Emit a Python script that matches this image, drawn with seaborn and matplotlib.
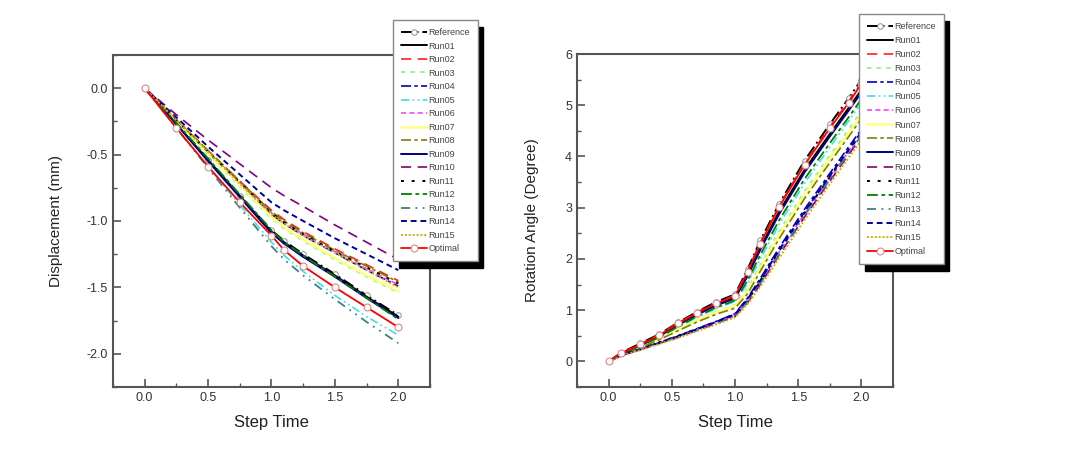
import matplotlib
matplotlib.use("Agg")
import matplotlib.pyplot as plt
import seaborn as sns
from matplotlib.ticker import MultipleLocator

sns.set_style("ticks")
plt.rcParams['font.family'] = ['Liberation Sans', 'DejaVu Sans']

labels = ["Reference", "Run01", "Run02", "Run03", "Run04", "Run05", "Run06", "Run07",
          "Run08", "Run09", "Run10", "Run11", "Run12", "Run13", "Run14", "Run15", "Optimal"]

# Displacement (mm) vs step time
t_disp = [0, 0.25, 0.5, 0.75, 1.0, 1.1, 1.25, 1.5, 1.75, 2.0]
disp_reference = [0, -0.27, -0.54, -0.81, -1.07, -1.15, -1.25, -1.40, -1.56, -1.71]
disp_run01 = [0, -0.27, -0.54, -0.81, -1.08, -1.16, -1.26, -1.41, -1.57, -1.72]
disp_run02 = [0, -0.24, -0.47, -0.70, -0.92, -0.99, -1.08, -1.21, -1.33, -1.45]
disp_run03 = [0, -0.25, -0.50, -0.74, -0.98, -1.06, -1.15, -1.29, -1.42, -1.54]
disp_run04 = [0, -0.24, -0.48, -0.72, -0.95, -1.02, -1.11, -1.24, -1.37, -1.49]
disp_run05 = [0, -0.30, -0.59, -0.88, -1.16, -1.26, -1.38, -1.56, -1.72, -1.86]
disp_run06 = [0, -0.24, -0.48, -0.71, -0.94, -1.01, -1.10, -1.23, -1.36, -1.48]
disp_run07 = [0, -0.25, -0.49, -0.73, -0.97, -1.05, -1.14, -1.28, -1.41, -1.53]
disp_run08 = [0, -0.24, -0.47, -0.70, -0.93, -1.00, -1.09, -1.22, -1.34, -1.46]
disp_run09 = [0, -0.27, -0.55, -0.82, -1.09, -1.17, -1.27, -1.42, -1.58, -1.73]
disp_run10 = [0, -0.20, -0.39, -0.57, -0.75, -0.81, -0.89, -1.03, -1.16, -1.29]
disp_run11 = [0, -0.24, -0.48, -0.71, -0.94, -1.01, -1.10, -1.23, -1.35, -1.47]
disp_run12 = [0, -0.26, -0.53, -0.80, -1.07, -1.16, -1.26, -1.42, -1.58, -1.74]
disp_run13 = [0, -0.30, -0.60, -0.90, -1.19, -1.29, -1.41, -1.59, -1.76, -1.92]
disp_run14 = [0, -0.22, -0.44, -0.65, -0.86, -0.92, -1.00, -1.13, -1.25, -1.37]
disp_run15 = [0, -0.24, -0.48, -0.72, -0.95, -1.02, -1.11, -1.24, -1.37, -1.50]
disp_optimal = [0, -0.30, -0.59, -0.86, -1.11, -1.22, -1.34, -1.50, -1.65, -1.80]

# Rotation angle (degree) vs step time
t_rot = [0, 0.1, 0.25, 0.4, 0.55, 0.7, 0.85, 1.0, 1.1, 1.2, 1.35, 1.55, 1.75, 1.9, 2.0]
rot_reference = [0, 0.17, 0.35, 0.53, 0.76, 0.97, 1.16, 1.31, 1.80, 2.36, 3.08, 3.92, 4.63, 5.14, 5.50]
rot_run01 = [0, 0.15, 0.32, 0.50, 0.72, 0.93, 1.11, 1.25, 1.70, 2.22, 2.93, 3.74, 4.44, 4.95, 5.30]
rot_run02 = [0, 0.16, 0.34, 0.52, 0.75, 0.96, 1.14, 1.29, 1.77, 2.32, 3.04, 3.87, 4.58, 5.08, 5.45]
rot_run03 = [0, 0.14, 0.28, 0.44, 0.63, 0.81, 0.97, 1.10, 1.42, 1.88, 2.54, 3.32, 4.02, 4.53, 4.88]
rot_run04 = [0, 0.12, 0.25, 0.37, 0.50, 0.64, 0.78, 0.93, 1.24, 1.62, 2.22, 2.97, 3.67, 4.19, 4.53]
rot_run05 = [0, 0.14, 0.30, 0.46, 0.67, 0.86, 1.03, 1.17, 1.52, 2.00, 2.68, 3.48, 4.18, 4.70, 5.05]
rot_run06 = [0, 0.12, 0.24, 0.36, 0.49, 0.62, 0.76, 0.90, 1.19, 1.55, 2.14, 2.88, 3.58, 4.10, 4.44]
rot_run07 = [0, 0.14, 0.28, 0.43, 0.62, 0.80, 0.96, 1.08, 1.38, 1.83, 2.48, 3.26, 3.96, 4.47, 4.82]
rot_run08 = [0, 0.13, 0.27, 0.42, 0.60, 0.77, 0.92, 1.04, 1.32, 1.76, 2.40, 3.18, 3.88, 4.39, 4.74]
rot_run09 = [0, 0.15, 0.31, 0.49, 0.71, 0.91, 1.09, 1.23, 1.67, 2.18, 2.88, 3.69, 4.39, 4.90, 5.25]
rot_run10 = [0, 0.11, 0.23, 0.35, 0.47, 0.61, 0.74, 0.88, 1.15, 1.50, 2.08, 2.82, 3.52, 4.04, 4.38]
rot_run11 = [0, 0.12, 0.24, 0.37, 0.50, 0.63, 0.77, 0.91, 1.20, 1.56, 2.16, 2.90, 3.60, 4.12, 4.46]
rot_run12 = [0, 0.15, 0.30, 0.47, 0.68, 0.88, 1.05, 1.19, 1.58, 2.08, 2.76, 3.56, 4.26, 4.77, 5.12]
rot_run13 = [0, 0.11, 0.23, 0.35, 0.48, 0.61, 0.75, 0.89, 1.16, 1.52, 2.10, 2.85, 3.55, 4.07, 4.41]
rot_run14 = [0, 0.12, 0.24, 0.36, 0.49, 0.63, 0.77, 0.92, 1.22, 1.58, 2.18, 2.92, 3.62, 4.14, 4.48]
rot_run15 = [0, 0.11, 0.22, 0.34, 0.46, 0.59, 0.72, 0.86, 1.12, 1.46, 2.02, 2.76, 3.46, 3.98, 4.32]
rot_optimal = [0, 0.16, 0.33, 0.51, 0.74, 0.95, 1.13, 1.28, 1.75, 2.30, 3.02, 3.84, 4.55, 5.05, 5.42]

disp_series = [disp_reference, disp_run01, disp_run02, disp_run03, disp_run04, disp_run05,
               disp_run06, disp_run07, disp_run08, disp_run09, disp_run10, disp_run11,
               disp_run12, disp_run13, disp_run14, disp_run15, disp_optimal]
rot_series = [rot_reference, rot_run01, rot_run02, rot_run03, rot_run04, rot_run05,
              rot_run06, rot_run07, rot_run08, rot_run09, rot_run10, rot_run11,
              rot_run12, rot_run13, rot_run14, rot_run15, rot_optimal]

styles = [
    dict(color="black", linestyle=(0, (6, 2, 1, 2)), marker="o", mfc="white", mec="#999999", ms=4, lw=1.4),
    dict(color="black", linestyle="-", lw=1.4),
    dict(color="#ff2020", linestyle=(0, (6, 4)), lw=1.2),
    dict(color="#80ff80", linestyle=(0, (2, 3)), lw=1.4),
    dict(color="#0000c0", linestyle=(0, (6, 2, 2, 2)), lw=1.2),
    dict(color="#40e0e0", linestyle=(0, (5, 2, 1, 2, 1, 2)), lw=1.2),
    dict(color="#ff40ff", linestyle=(0, (3, 2)), lw=1.2),
    dict(color="#ffff80", linestyle="-", lw=1.8),
    dict(color="#808000", linestyle=(0, (6, 2, 2, 2)), lw=1.2),
    dict(color="#000080", linestyle="-", lw=1.4),
    dict(color="#800080", linestyle=(0, (6, 4)), lw=1.2),
    dict(color="black", linestyle=(0, (1.5, 4)), lw=1.4),
    dict(color="#008000", linestyle=(0, (6, 2, 2, 2)), lw=1.3),
    dict(color="#408080", linestyle=(0, (5, 3, 1, 3, 1, 3)), lw=1.3),
    dict(color="#0000a0", linestyle=(0, (3, 2)), lw=1.4),
    dict(color="#d0b000", linestyle=(0, (1, 1)), lw=1.4),
    dict(color="#ff0000", linestyle="-", marker="o", mfc="white", mec="#e08080", ms=5, lw=1.3),
]

fig = plt.figure(figsize=(10.81, 4.49), dpi=100)
ax1 = fig.add_axes([0.1045, 0.1381, 0.2933, 0.7394])
ax2 = fig.add_axes([0.5338, 0.1381, 0.2923, 0.7416])

for lab, ys, st in zip(labels, disp_series, styles):
    sns.lineplot(x=t_disp, y=ys, ax=ax1, label=lab, **st)
for lab, ys, st in zip(labels, rot_series, styles):
    sns.lineplot(x=t_rot, y=ys, ax=ax2, label=lab, **st)

spine_col = "#555555"
for ax in (ax1, ax2):
    ax.set_xlim(-0.25, 2.25)
    ax.xaxis.set_major_locator(MultipleLocator(0.5))
    ax.xaxis.set_minor_locator(MultipleLocator(0.25))
    ax.set_xticks([0, 0.5, 1.0, 1.5, 2.0])
    ax.set_xticklabels(["0.0", "0.5", "1.0", "1.5", "2.0"])
    ax.tick_params(which="both", direction="in", colors=spine_col, labelcolor="#333333",
                   top=False, right=False, labelsize=9)
    ax.tick_params(which="major", length=6, width=1.2)
    ax.tick_params(which="minor", length=3, width=1.0)
    for s in ax.spines.values():
        s.set_color(spine_col)
        s.set_linewidth(1.5)
        s.set_visible(True)
    ax.set_xlabel("Step Time", fontsize=12, color="#222222", labelpad=8)

ax1.set_ylim(-2.25, 0.25)
ax1.set_yticks([0.0, -0.5, -1.0, -1.5, -2.0])
ax1.set_yticklabels(["0.0", "-0.5", "-1.0", "-1.5", "-2.0"])
ax1.yaxis.set_minor_locator(MultipleLocator(0.25))
ax1.set_ylabel("Displacement (mm)", fontsize=11, color="#222222", labelpad=17)

ax2.set_ylim(-0.5, 6)
ax2.set_yticks([0, 1, 2, 3, 4, 5, 6])
ax2.yaxis.set_minor_locator(MultipleLocator(0.5))
ax2.set_ylabel("Rotation Angle (Degree)", fontsize=11, color="#222222", labelpad=19)

leg_kw = dict(fontsize=6.5, frameon=True, fancybox=False, handlelength=2.9, handletextpad=0.1,
              borderaxespad=0,
              shadow={"color": "black", "alpha": 1.0, "ox": 4, "oy": -5})
l1 = ax1.legend(loc="upper left", bbox_to_anchor=(0.3636, 0.9555), bbox_transform=fig.transFigure,
                labelspacing=0.5, borderpad=0.9, **leg_kw)
l2 = ax2.legend(loc="upper left", bbox_to_anchor=(0.7946, 0.9688), bbox_transform=fig.transFigure,
                labelspacing=0.56, borderpad=0.9, **leg_kw)
for lg in (l1, l2):
    fr = lg.get_frame()
    fr.set_edgecolor("#888888")
    fr.set_linewidth(1.0)
    fr.set_alpha(1.0)
    for txt in lg.get_texts():
        txt.set_color("#444444")

fig.savefig("out.png", dpi=100)
